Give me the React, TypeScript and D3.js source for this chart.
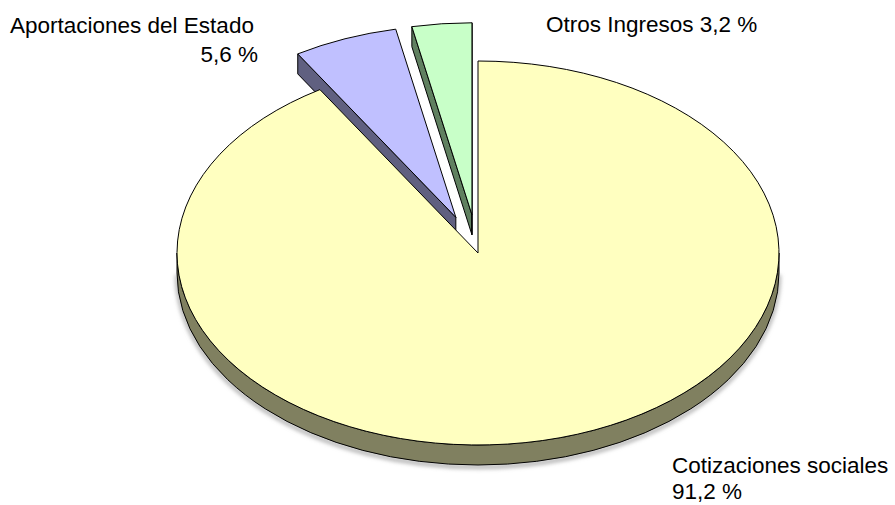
import * as d3 from 'd3'

// Slices in drawing order around the pie (clockwise from 12 o'clock)
const categories = ['Cotizaciones sociales', 'Aportaciones del Estado', 'Otros Ingresos']
const values = [91.2, 5.6, 3.2]
const faceColors = ['#FFFFC0', '#C0C0FF', '#C8FFC8']
const sideColors = ['#808060', '#606080', '#608060']
const explode = [0, 0.2, 0.2]

const width = 895
const height = 505
const cx = 478
const cy = 253
const rx = 301
const ry = 192
const depth = 20

const locale = d3.formatLocale({ decimal: ',', thousands: '.', grouping: [3], currency: ['', ' €'] })
const pct = locale.format('.1f')

type Slice = d3.PieArcDatum<number> & { i: number }

function pt(a: number, r: number, ox: number, oy: number, z: number): [number, number] {
  return [cx + ox + rx * r * Math.sin(a), cy + oy - ry * r * Math.cos(a) + z]
}

function slicePaths(s: Slice) {
  const a0 = s.startAngle
  const a1 = s.endAngle
  const mid = (a0 + a1) / 2
  const e = explode[s.i]
  const ox = e * rx * Math.sin(mid)
  const oy = -e * ry * Math.cos(mid)
  const c = pt(0, 0, ox, oy, 0)
  const cb = pt(0, 0, ox, oy, depth)
  const walls: string[] = []

  // front part of the outer rim
  const b0 = Math.max(a0, Math.PI / 2)
  const b1 = Math.min(a1, (3 * Math.PI) / 2)
  if (b1 > b0) {
    const t0 = pt(b0, 1, ox, oy, 0)
    const t1 = pt(b1, 1, ox, oy, 0)
    const d0 = pt(b0, 1, ox, oy, depth)
    const d1 = pt(b1, 1, ox, oy, depth)
    const lg = b1 - b0 > Math.PI ? 1 : 0
    walls.push(
      `M${t0}A${rx},${ry} 0 ${lg} 1 ${t1}L${d1}A${rx},${ry} 0 ${lg} 0 ${d0}Z`
    )
  }
  // radial walls facing the viewer
  if (Math.cos(a0 - Math.PI / 2) < 0 && e > 0) {
    const o = pt(a0, 1, ox, oy, 0)
    const ob = pt(a0, 1, ox, oy, depth)
    walls.push(`M${c}L${o}L${ob}L${cb}Z`)
  }
  if (Math.cos(a1 + Math.PI / 2) < 0 && e > 0) {
    const o = pt(a1, 1, ox, oy, 0)
    const ob = pt(a1, 1, ox, oy, depth)
    walls.push(`M${c}L${o}L${ob}L${cb}Z`)
  }
  const p0 = pt(a0, 1, ox, oy, 0)
  const p1 = pt(a1, 1, ox, oy, 0)
  const lg = a1 - a0 > Math.PI ? 1 : 0
  const top = `M${c}L${p0}A${rx},${ry} 0 ${lg} 1 ${p1}Z`
  return { walls, top }
}

export default function App() {
  const pie = d3
    .pie<number>()
    .sort(null)
    .value(d => d)
  const slices: Slice[] = pie(values).map((d, i) => ({ ...d, i }))
  // paint the exploded slices first so the big one covers their hidden sides
  const order = [1, 2, 0]

  const shadow = `M${pt(Math.PI / 2, 1, 0, 0, depth + 2)}A${rx},${ry} 0 0 1 ${pt(
    (3 * Math.PI) / 2,
    1,
    0,
    0,
    depth + 2
  )}`

  const font = '"Liberation Sans", Arial, sans-serif'

  return (
    <svg
      width={width}
      height={height}
      viewBox={`0 0 ${width} ${height}`}
      style={{ position: 'absolute', left: 0, top: 0, background: '#fff' }}
    >
      <defs>
        <filter id="blur" x="-10%" y="-10%" width="120%" height="130%">
          <feGaussianBlur stdDeviation="2" />
        </filter>
      </defs>
      <path d={shadow} fill="none" stroke="#999" strokeWidth={3} filter="url(#blur)" />
      {order.map(i => {
        const s = slices[i]
        const { walls, top } = slicePaths(s)
        return (
          <g key={categories[i]} stroke="#000" strokeWidth={1} strokeLinejoin="round">
            {walls.map((w, k) => (
              <path key={k} d={w} fill={sideColors[i]} />
            ))}
            <path d={top} fill={faceColors[i]} />
          </g>
        )
      })}
      <g fontFamily={font} fontSize={22.5} fill="#000">
        <text x={10} y={33}>
          {categories[1]}
        </text>
        <text x={258} y={62} textAnchor="end">
          {pct(values[1])} %
        </text>
        <text x={546} y={32}>
          {categories[2]} {pct(values[2])} %
        </text>
        <text x={672} y={473}>
          {categories[0]}
        </text>
        <text x={672} y={499}>
          {pct(values[0])} %
        </text>
      </g>
    </svg>
  )
}
